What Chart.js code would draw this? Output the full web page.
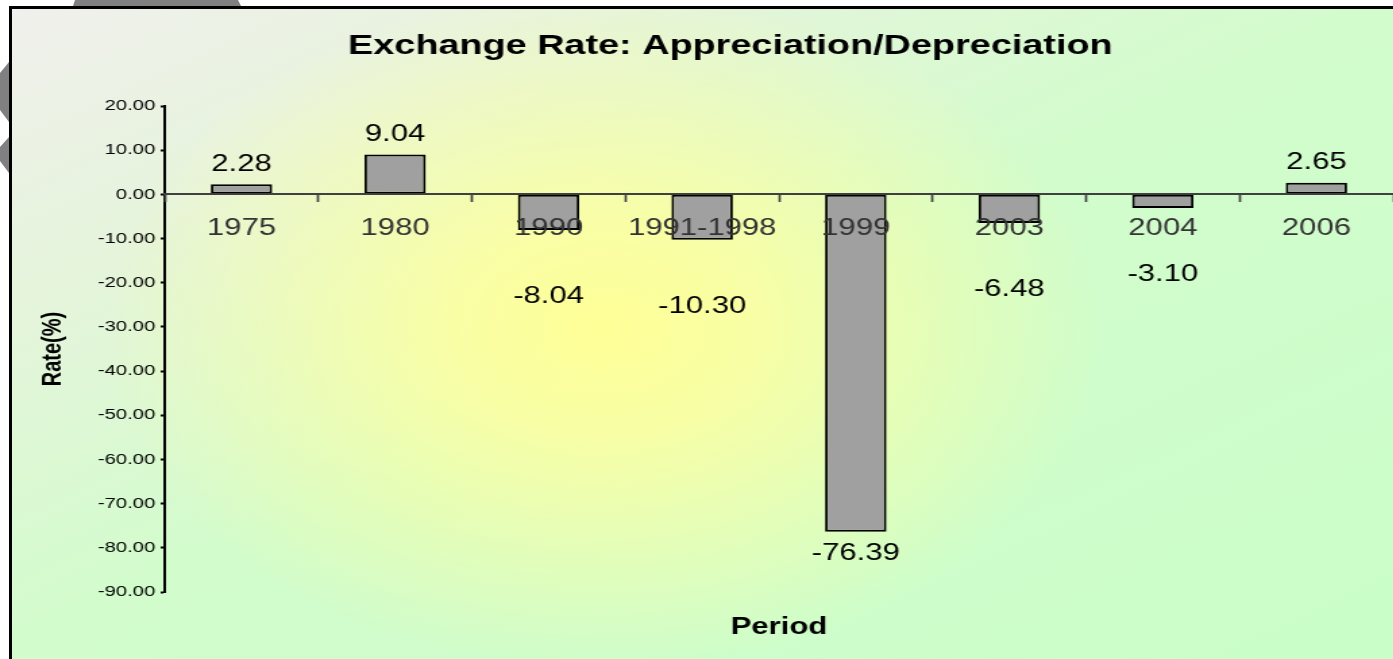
<!DOCTYPE html>
<html>
<head>
<meta charset="utf-8">
<title>Exchange Rate: Appreciation/Depreciation</title>
<script src="https://cdn.jsdelivr.net/npm/chart.js@4.4.1/dist/chart.umd.min.js"></script>
<style>
  html, body { margin: 0; padding: 0; width: 1393px; height: 659px; overflow: hidden; background: #fff; }
  .frame {
    position: absolute; left: 9px; top: 6px; width: 1500px; height: 720px;
    border: 3px solid #000;
    background:
      radial-gradient(ellipse 500px 340px at 590px 320px, rgba(255,255,150,1) 0%, rgba(255,255,158,0.85) 30%, rgba(250,255,170,0) 100%),
      linear-gradient(155deg, #f0f0ec 0%, #e6f4dc 20%, #d2fccc 45%, #c8ffc8 100%);
  }
  .deco { position: absolute; background: #808080; }
  .d1 { left: 73px; top: 0; width: 168px; height: 6px; clip-path: polygon(2px 0, 165px 0, 168px 6px, 0 6px); }
  .d2 { left: 0; top: 62px; width: 9px; height: 60px; clip-path: polygon(9px 0, 0 11px, 0 48px, 9px 60px); }
  .d3 { left: 0; top: 137px; width: 9px; height: 36px; clip-path: polygon(9px 0, 0 10px, 0 24px, 9px 36px); }
  #wrap { position: absolute; left: 0; top: 0; transform: scaleX(1.35); transform-origin: 0 0; }
</style>
</head>
<body>
<div class="deco d1"></div>
<div class="deco d2"></div>
<div class="deco d3"></div>
<div class="frame"></div>
<div id="wrap"><canvas id="rateChart" width="1032" height="659"></canvas></div>
<script>
// Chart data
const periods = ["1975", "1980", "1990", "1991-1998", "1999", "2003", "2004", "2006"];
const rateChange = [2.28, 9.04, -8.04, -10.3, -76.39, -6.48, -3.1, 2.65];
const rateTicks = [20, 10, 0, -10, -20, -30, -40, -50, -60, -70, -80, -90];

const fontFamily = "'Liberation Sans', Arial, sans-serif";
Chart.defaults.font.family = fontFamily;

// Value labels above / below the bars
const valueLabels = {
  id: "valueLabels",
  afterDatasetsDraw(chart) {
    const ctx = chart.ctx;
    const zeroY = chart.scales.y.getPixelForValue(0);
    ctx.save();
    ctx.font = "23px " + fontFamily;
    ctx.fillStyle = "#000";
    ctx.textAlign = "center";
    ctx.textBaseline = "middle";
    chart.getDatasetMeta(0).data.forEach(function (bar, i) {
      const v = rateChange[i];
      let y;
      if (v >= 0) y = bar.y - 20;
      else if (bar.y - zeroY < 100) y = bar.y + 67; // clear the period labels
      else y = bar.y + 22;
      ctx.fillText(v.toFixed(2), bar.x, y);
    });
    ctx.restore();
  },
};

// Main title and x title
const frameText = {
  id: "frameText",
  afterDraw(chart) {
    const ctx = chart.ctx;
    const area = chart.chartArea;
    ctx.save();
    ctx.fillStyle = "#000";
    ctx.textAlign = "center";
    ctx.textBaseline = "middle";
    ctx.font = "bold 28px " + fontFamily;
    ctx.fillText("Exchange Rate: Appreciation/Depreciation", 541, 46);
    ctx.font = "bold 23px " + fontFamily;
    ctx.fillText("Period", (area.left + area.right) / 2, 628);
    ctx.restore();
  },
};

const ctx = document.getElementById("rateChart").getContext("2d");
new Chart(ctx, {
  type: "bar",
  data: {
    labels: periods,
    datasets: [
      {
        label: "Rate(%)",
        data: rateChange,
        backgroundColor: "#a0a0a0",
        borderColor: "#000",
        borderWidth: 2,
        borderSkipped: false,
        barPercentage: 0.4,
        categoryPercentage: 1,
      },
    ],
  },
  options: {
    responsive: false,
    animation: false,
    layout: { padding: { top: 106, bottom: 67, left: 0, right: 0 } },
    plugins: {
      legend: { display: false },
      tooltip: { enabled: false },
      title: { display: false },
    },
    scales: {
      x: {
        position: { y: 0 },
        z: 1,
        border: { color: "#404040", width: 2, z: 1 },
        grid: { drawOnChartArea: false, tickLength: 7, color: "#404040", tickWidth: 1.7, z: 1 },
        ticks: { color: "#333", font: { size: 23 }, padding: 13, maxRotation: 0, autoSkip: false, z: 1 },
      },
      y: {
        min: Math.min(...rateTicks),
        max: Math.max(...rateTicks),
        afterFit: function (scale) {
          scale.width = 122;
        },
        border: { color: "#000", width: 2 },
        grid: { drawOnChartArea: false, tickLength: 3, color: "#000", tickWidth: 2 },
        ticks: {
          stepSize: 10,
          padding: 4,
          color: "#000",
          font: { size: 15 },
          callback: function (value) {
            return value.toFixed(2);
          },
        },
        title: {
          display: true,
          text: "Rate(%)",
          color: "#000",
          font: { size: 20, weight: "bold" },
          padding: { top: 27, bottom: 0 },
        },
      },
    },
  },
  plugins: [valueLabels, frameText],
});
</script>
</body>
</html>
